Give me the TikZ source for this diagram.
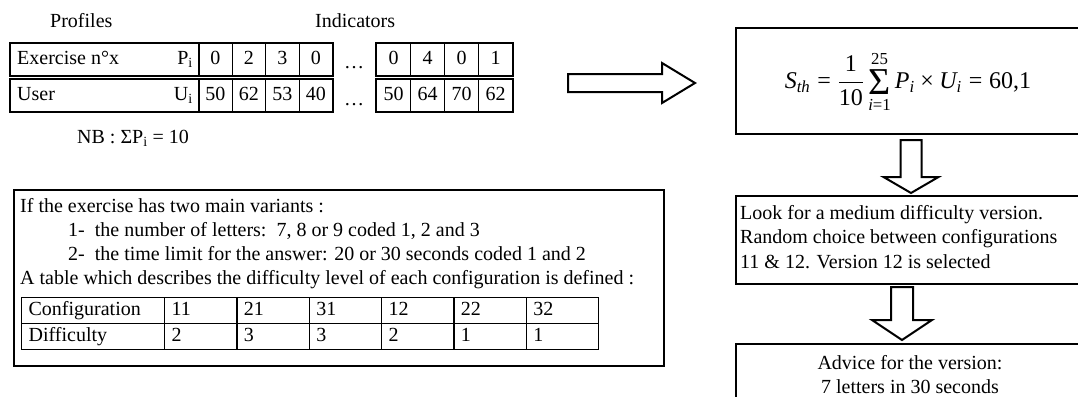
\documentclass[tikz,border=0pt]{standalone}
\usepackage{amsmath}
\usepackage{fontspec}
\setmainfont{Liberation Serif}
\usetikzlibrary{calc}
\newcommand{\tx}[1]{\text{#1}}
\begin{document}
\begin{tikzpicture}[x=1pt,y=-1pt,
  font=\fontsize{20}{24}\selectfont,
  txt/.style={inner sep=0pt},
  box/.style={draw, line width=2pt, inner sep=0pt, anchor=north west},
  pcell/.style={draw, line width=1.2pt, anchor=north west, minimum height=32pt, inner sep=0pt, text height=14pt, text depth=4pt},
  tcell/.style={draw, line width=1.2pt, anchor=north west, minimum height=26pt, inner xsep=7pt, inner ysep=0pt, text height=14pt, text depth=4pt, align=left},
  hollow/.style={draw, line width=2pt, fill=white, line join=miter}]
\useasboundingbox (0,0) rectangle (1078,396);
\clip (0,0) rectangle (1078,396);

% headings
\node[txt, anchor=base west] (prof) at (50,28) {Profiles};
\node[txt, anchor=base west] (ind) at (315,28) {Indicators};

% top table row 1
\node[pcell, minimum width=188pt] (ex) at (10,43) {};
\node[pcell, minimum width=33.5pt] (p1) at (198,43) {0};
\node[pcell, minimum width=33.5pt] (p2) at (231.5,43) {2};
\node[pcell, minimum width=33.5pt] (p3) at (265,43) {3};
\node[pcell, minimum width=33.5pt] (p4) at (298.5,43) {0};
\node[pcell, minimum width=34pt] (p5) at (376,43) {0};
\node[pcell, minimum width=34pt] (p6) at (410,43) {4};
\node[pcell, minimum width=34pt] (p7) at (444,43) {0};
\node[pcell, minimum width=34pt] (p8) at (478,43) {1};
\node[txt, anchor=base west] (exl) at (17,64) {Exercise n°x};
\node[txt, anchor=base east] (pil) at (193,64) {P\textsubscript{i}};
\node[txt, anchor=base] (dots1) at (354,69) {…};
\draw[line width=2.4pt] (ex.north west) rectangle (p4.south east);
\draw[line width=2.4pt] (p5.north west) rectangle (p8.south east);
\draw[line width=2.4pt] (ex.north east) -- (ex.south east);

% top table row 2
\node[pcell, minimum width=188pt] (us) at (10,79) {};
\node[pcell, minimum width=33.5pt] (u1) at (198,79) {50};
\node[pcell, minimum width=33.5pt] (u2) at (231.5,79) {62};
\node[pcell, minimum width=33.5pt] (u3) at (265,79) {53};
\node[pcell, minimum width=33.5pt] (u4) at (298.5,79) {40};
\node[pcell, minimum width=34pt] (u5) at (376,79) {50};
\node[pcell, minimum width=34pt] (u6) at (410,79) {64};
\node[pcell, minimum width=34pt] (u7) at (444,79) {70};
\node[pcell, minimum width=34pt] (u8) at (478,79) {62};
\node[txt, anchor=base west] (usl) at (17,100) {User};
\node[txt, anchor=base east] (uil) at (193,100) {U\textsubscript{i}};
\node[txt, anchor=base] (dots2) at (354,105) {…};
\draw[line width=2.4pt] (us.north west) rectangle (u4.south east);
\draw[line width=2.4pt] (u5.north west) rectangle (u8.south east);
\draw[line width=2.4pt] (us.north east) -- (us.south east);

\node[txt, anchor=base west] (nb) at (77,143) {NB : ΣP\textsubscript{i} = 10};

% left box
\node[box, minimum width=650pt, minimum height=176pt] (lbox) at (13,189) {};
\node[txt, anchor=base west] (l1) at (20,212) {If the exercise has two main variants :};
\node[txt, anchor=base west] (l2) at (68,236) {1-\hspace{0.5em}the number of letters:\hspace{0.5em}7, 8 or 9 coded 1, 2 and 3};
\node[txt, anchor=base west] (l3) at (68,260) {2-\hspace{0.5em}the time limit for the answer: 20 or 30 seconds coded 1 and 2};
\node[txt, anchor=base west] (l4) at (20,284) {A table which describes the difficulty level of each configuration is defined :};

% inner table
\node[tcell, text width=129pt] (c0) at (21,297) {Configuration};
\node[tcell, text width=58.3pt] (c1) at (164,297) {11};
\node[tcell, text width=58.3pt] (c2) at (236.33,297) {21};
\node[tcell, text width=58.3pt] (c3) at (308.67,297) {31};
\node[tcell, text width=58.3pt] (c4) at (381,297) {12};
\node[tcell, text width=58.3pt] (c5) at (453.33,297) {22};
\node[tcell, text width=58.3pt] (c6) at (525.67,297) {32};
\node[tcell, text width=129pt] (d0) at (21,323) {Difficulty};
\node[tcell, text width=58.3pt] (d1) at (164,323) {2};
\node[tcell, text width=58.3pt] (d2) at (236.33,323) {3};
\node[tcell, text width=58.3pt] (d3) at (308.67,323) {3};
\node[tcell, text width=58.3pt] (d4) at (381,323) {2};
\node[tcell, text width=58.3pt] (d5) at (453.33,323) {1};
\node[tcell, text width=58.3pt] (d6) at (525.67,323) {1};

% right column boxes
\node[box, minimum width=365pt, minimum height=106pt] (fbox) at (735,27) {};
\node[txt, font=\fontsize{24}{28}\selectfont] (form) at (908,82)
  {$\displaystyle \tx{\itshape S}_{\tx{\itshape th}} \mathrel{\tx{=}} \frac{\tx{1}}{\tx{10}}
   \mathop{\vcenter{\hbox{\fontsize{38}{38}\selectfont Σ}}}\limits_{\tx{\itshape i\/\upshape =1}}^{\tx{25}}
   \tx{\itshape P}_{\tx{\itshape i}} \mathbin{\tx{×}} \tx{\itshape U}_{\tx{\itshape i}} \mathrel{\tx{=}} \tx{60,1}$};

\node[box, minimum width=365pt, minimum height=88pt] (box2) at (735,195) {};
\node[txt, anchor=base west] (b21) at (740,219) {Look for a medium difficulty version.};
\node[txt, anchor=base west] (b22) at (740,243) {Random choice between configurations};
\node[txt, anchor=base west] (b23) at (740,268) {11 \& 12. Version 12 is selected};

\node[box, minimum width=365pt, minimum height=80pt] (box3) at (735,343) {};
\node[txt, anchor=base] (b31) at (910,369) {Advice for the version:};
\node[txt, anchor=base] (b32) at (910,393) {7 letters in 30 seconds};

% hollow arrows
\coordinate (ra) at (568,83);
\coordinate (rb) at (695,83);
\draw[hollow] (ra) ++(0,-9) -- ++(94,0) -- ++(0,-11) -- (rb) -- ++(-33,20) -- ++(0,-11) -- ++(-94,0) -- cycle;

\coordinate (da) at (911,140);
\coordinate (db) at (911,193);
\draw[hollow] (da) ++(-10.5,0) -- ++(0,37) -- ++(-17,0) -- (db) -- ++(27.5,-16) -- ++(-17,0) -- ++(0,-37) -- cycle;

\coordinate (ea) at (902,287);
\coordinate (eb) at (902,340);
\draw[hollow] (ea) ++(-11,0) -- ++(0,33) -- ++(-19,0) -- (eb) -- ++(30,-20) -- ++(-19,0) -- ++(0,-33) -- cycle;
\end{tikzpicture}
\end{document}
